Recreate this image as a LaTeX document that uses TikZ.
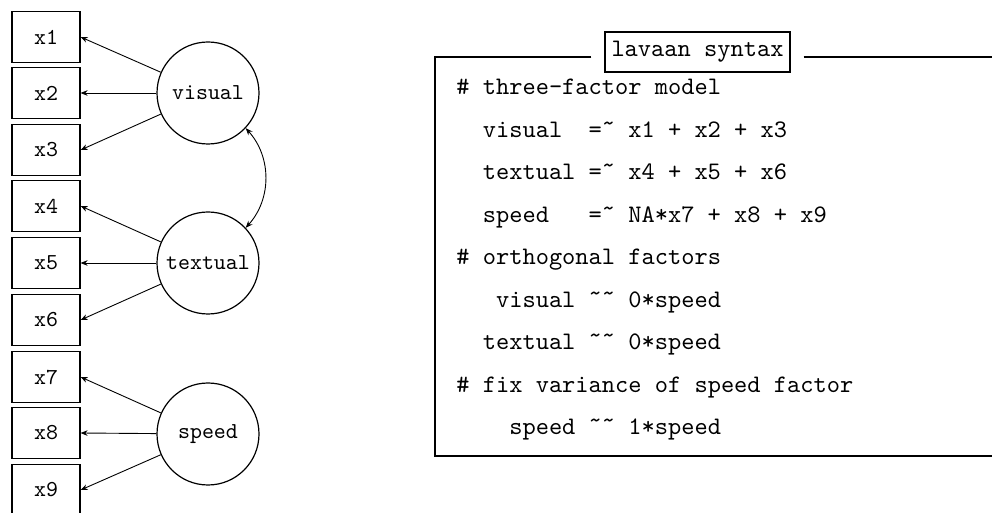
\documentclass[tikz,border=0pt]{standalone}
\usepackage{fontspec}
\setmonofont{lmmono10-regular}[Extension=.otf]
\usetikzlibrary{arrows.meta}
\begin{document}
\begin{tikzpicture}[x=0.5pt,y=-0.5pt,
  obs/.style={draw,line width=0.6pt,minimum width=34pt,minimum height=25.5pt,inner sep=0pt,font=\fontsize{11.4}{13}\ttfamily},
  lat/.style={draw,circle,line width=0.6pt,minimum size=51pt,inner sep=0pt,font=\fontsize{11.4}{13}\ttfamily},
  load/.style={{Stealth[length=3.5pt,width=2.8pt]}-,line width=0.45pt},
  code/.style={anchor=base west,inner sep=0pt,font=\fontsize{12.6}{14}\ttfamily},
  frame/.style={line width=0.6pt}]
\useasboundingbox (0,0) rectangle (992,513);
% observed variables
\node[obs] (x1) at (46,37) {x1};
\node[obs] (x2) at (46,93) {x2};
\node[obs] (x3) at (46,150) {x3};
\node[obs] (x4) at (46,206) {x4};
\node[obs] (x5) at (46,263) {x5};
\node[obs] (x6) at (46,320) {x6};
\node[obs] (x7) at (46,377) {x7};
\node[obs] (x8) at (46,433) {x8};
\node[obs] (x9) at (46,490) {x9};
% latent
\node[lat] (visual) at (208,93) {visual};
\node[lat] (textual) at (208,263) {textual};
\node[lat] (speed) at (208,434) {speed};
\draw[load] (x1.east) -- (visual);
\draw[load] (x2.east) -- (visual);
\draw[load] (x3.east) -- (visual);
\draw[load] (x4.east) -- (textual);
\draw[load] (x5.east) -- (textual);
\draw[load] (x6.east) -- (textual);
\draw[load] (x7.east) -- (speed);
\draw[load] (x8.east) -- (speed);
\draw[load] (x9.east) -- (speed);
\draw[{Stealth[length=3.5pt,width=2.8pt]}-{Stealth[length=3.5pt,width=2.8pt]},line width=0.45pt] (visual.-43) to[bend left=42] (textual.43);
% frame
\node[draw,line width=0.6pt,minimum width=92.5pt,minimum height=20pt,inner sep=0pt,font=\fontsize{12.6}{14}\ttfamily] (title) at (697.5,52) {lavaan syntax};
\coordinate (tl) at (435,57);
\coordinate (tr) at (992,57);
\coordinate (bl) at (435,456);
\coordinate (br) at (992,456);
\draw[frame] (title.west |- tl) ++(-13,0) -- (tl) -- (bl) -- (br);
\draw[frame] (title.east |- tl) ++(13,0) -- (tr);
% code
\node[code] (l1) at (456,95) {\#\ three-factor model};
\node[code] (l2) at (456,138) {\ \ visual\ \ =˜ x1 + x2 + x3};
\node[code] (l3) at (456,180) {\ \ textual =˜ x4 + x5 + x6};
\node[code] (l4) at (456,223) {\ \ speed\ \ \ =˜ NA*x7 + x8 + x9};
\node[code] (l5) at (456,265) {\#\ orthogonal factors};
\node[code] (l6) at (456,308) {\ \ \ visual ˜˜ 0*speed};
\node[code] (l7) at (456,350) {\ \ textual ˜˜ 0*speed};
\node[code] (l8) at (456,393) {\#\ fix variance of speed factor};
\node[code] (l9) at (456,435) {\ \ \ \ speed ˜˜ 1*speed};
\end{tikzpicture}
\end{document}
